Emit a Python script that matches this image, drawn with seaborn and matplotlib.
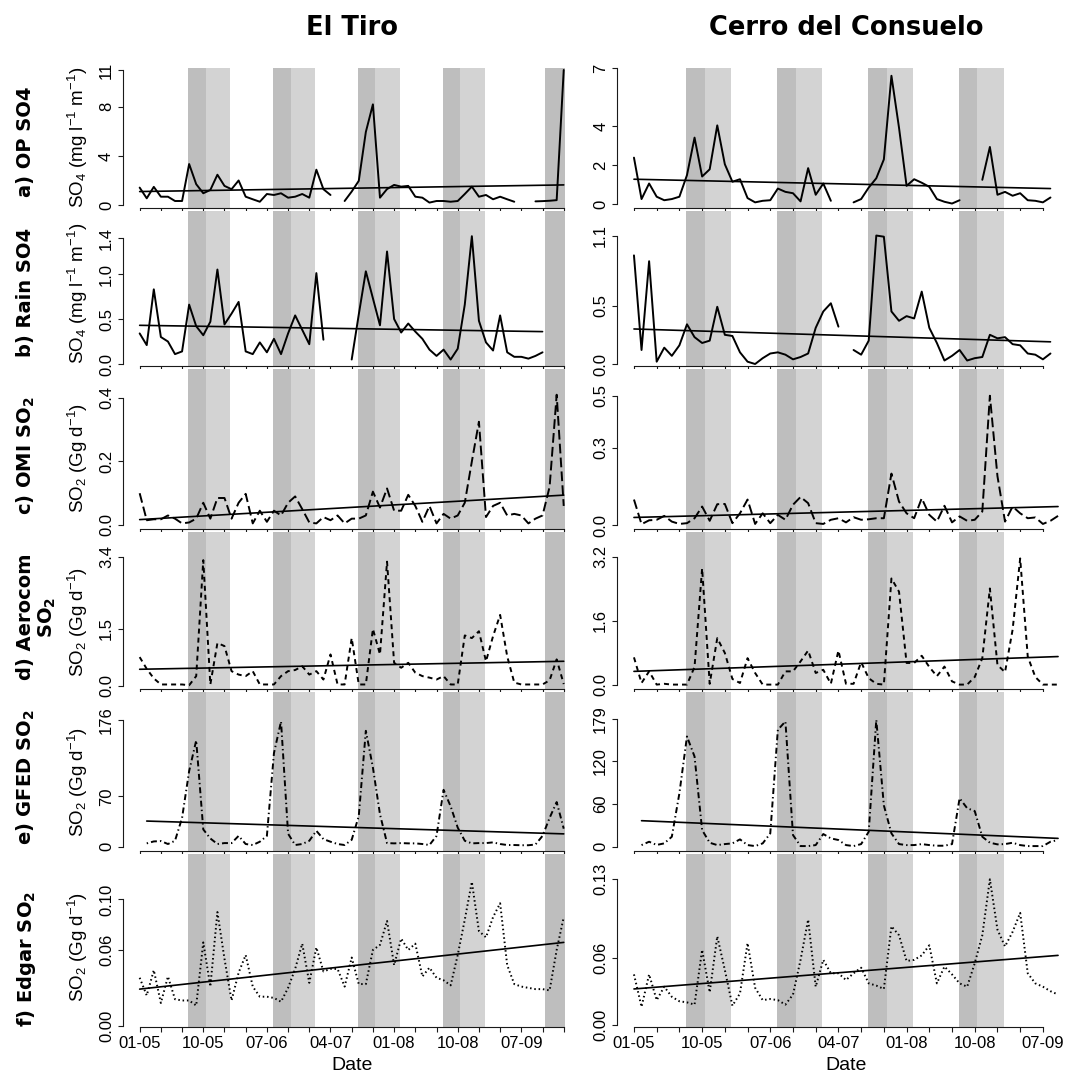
import numpy as np
import pandas as pd
import matplotlib
matplotlib.use("Agg")
import matplotlib.pyplot as plt
import seaborn as sns

nan = np.nan

# monthly values, first value = 01-05; El Tiro runs to 01-10, Cerro del Consuelo to 09-09
op_tiro = [1.42, 0.55, 1.48, 0.68, 0.68, 0.33, 0.33, 3.34, 1.7, 0.96,
           1.23, 2.47, 1.56, 1.29, 2.0, 0.68, 0.47, 0.27, 0.9, 0.82,
           0.96, 0.6, 0.68, 0.9, 0.6, 2.88, 1.29, 0.82, nan, 0.33,
           1.1, 1.97, 5.95, 8.2, 0.6, 1.3, 1.64, 1.5, 1.56, 0.68,
           0.6, 0.2, 0.33, 0.33, 0.27, 0.33, 0.9, 1.5, 0.68, 0.82,
           0.47, 0.68, 0.47, 0.27, nan, nan, 0.3, 0.32, 0.35, 0.4,
           11.0]
rain_tiro = [0.34, 0.21, 0.83, 0.30, 0.25, 0.11, 0.14, 0.66, 0.42, 0.32,
             0.47, 1.05, 0.44, 0.56, 0.69, 0.14, 0.11, 0.24, 0.13, 0.28,
             0.11, 0.34, 0.54, 0.38, 0.22, 1.01, 0.27, nan, nan, nan,
             0.05, 0.55, 1.03, 0.73, 0.43, 1.25, 0.50, 0.35, 0.45, 0.36,
             0.28, 0.16, 0.09, 0.16, 0.05, 0.17, 0.66, 1.42, 0.48, 0.24,
             0.15, 0.54, 0.13, 0.08, 0.08, 0.06, 0.09, 0.13, nan, nan,
             nan]
omi_tiro = [0.10, 0.015, 0.018, 0.018, 0.03, 0.02, 0.005, 0.008, 0.02, 0.07,
            0.02, 0.085, 0.085, 0.02, 0.07, 0.098, 0.005, 0.045, 0.01, 0.045,
            0.03, 0.07, 0.09, 0.05, 0.008, 0.005, 0.025, 0.015, 0.03, 0.005,
            0.02, 0.02, 0.03, 0.105, 0.055, 0.115, 0.045, 0.045, 0.095, 0.06,
            0.01, 0.06, 0.005, 0.035, 0.02, 0.03, 0.07, 0.2, 0.325, 0.025,
            0.06, 0.07, 0.03, 0.035, 0.03, 0.005, 0.02, 0.03, 0.12, 0.41,
            0.06]
aero_tiro = [0.76, 0.45, 0.2, 0.04, 0.04, 0.04, 0.04, 0.02, 0.26, 3.31,
             0.04, 1.13, 1.05, 0.39, 0.3, 0.26, 0.39, 0.04, 0.04, 0.04,
             0.26, 0.39, 0.42, 0.52, 0.3, 0.39, 0.17, 0.83, 0.04, 0.04,
             1.26, 0.04, 0.04, 1.5, 0.83, 3.27, 0.61, 0.48, 0.61, 0.35,
             0.26, 0.22, 0.17, 0.26, 0.04, 0.04, 1.33, 1.26, 1.44, 0.65,
             1.31, 1.87, 0.78, 0.09, 0.04, 0.04, 0.04, 0.04, 0.15, 0.7,
             0.05]
gfed_tiro = [nan, 4.6, 7.3, 7.8, 3.7, 8.2, 40, 105, 147.6, 24,
             11.4, 3.7, 5, 5, 15, 3.7, 2.3, 6.9, 15, 130,
             174, 18, 2.3, 3.7, 8.2, 22, 10.5, 6.9, 3.7, 2.3,
             9.6, 42.5, 161, 110, 45, 5, 4.6, 5, 4.6, 4.6,
             3.7, 2.3, 15, 79, 56, 26.5, 8.2, 4.6, 5, 5,
             6, 3.7, 2.3, 2.3, 2, 2, 3, 15, 40, 62,
             25]
edgar_tiro = [0.038, 0.024, 0.044, 0.018, 0.039, 0.021, 0.020, 0.020, 0.016, 0.066,
              0.031, 0.09, 0.053, 0.02, 0.042, 0.056, 0.031, 0.023, 0.023, 0.022,
              0.019, 0.03, 0.045, 0.065, 0.034, 0.062, 0.043, 0.045, 0.045, 0.031,
              0.054, 0.033, 0.033, 0.06, 0.064, 0.083, 0.048, 0.069, 0.06, 0.065,
              0.039, 0.046, 0.038, 0.036, 0.032, 0.056, 0.084, 0.114, 0.075, 0.07,
              0.086, 0.097, 0.048, 0.033, 0.031, 0.03, 0.029, 0.029, 0.028, 0.06,
              0.086]

op_cerro = [2.39, 0.26, 1.06, 0.38, 0.2, 0.26, 0.38, 1.49, 3.42, 1.42,
            1.79, 4.05, 2.05, 1.15, 1.28, 0.31, 0.09, 0.17, 0.2, 0.8,
            0.63, 0.56, 0.14, 1.85, 0.48, 1.06, 0.17, nan, nan, 0.09,
            0.26, 0.85, 1.33, 2.3, 6.6, 3.93, 0.94, 1.28, 1.1, 0.89,
            0.26, 0.12, 0.03, 0.2, nan, nan, 1.25, 2.94, 0.48, 0.63,
            0.43, 0.56, 0.2, 0.17, 0.09, 0.34, nan]
rain_cerro = [0.93, 0.12, 0.88, 0.02, 0.14, 0.07, 0.16, 0.34, 0.23, 0.18,
              0.2, 0.49, 0.25, 0.24, 0.1, 0.02, 0.0, 0.05, 0.09, 0.1,
              0.08, 0.04, 0.06, 0.09, 0.31, 0.45, 0.52, 0.32, nan, 0.12,
              0.08, 0.2, 1.1, 1.09, 0.45, 0.37, 0.41, 0.39, 0.62, 0.31,
              0.18, 0.03, 0.07, 0.12, 0.03, 0.05, 0.06, 0.25, 0.22, 0.23,
              0.17, 0.16, 0.09, 0.08, 0.04, 0.09, nan]
omi_cerro = [0.1, 0.005, 0.02, 0.022, 0.037, 0.015, 0.006, 0.009, 0.028, 0.073,
             0.018, 0.082, 0.083, 0.009, 0.047, 0.1, 0.006, 0.047, 0.009, 0.041,
             0.022, 0.08, 0.11, 0.086, 0.009, 0.006, 0.022, 0.028, 0.012, 0.032,
             0.022, 0.024, 0.028, 0.028, 0.2, 0.092, 0.047, 0.028, 0.105, 0.041,
             0.015, 0.076, 0.012, 0.035, 0.018, 0.022, 0.054, 0.5, 0.19, 0.015,
             0.073, 0.047, 0.028, 0.031, 0.006, 0.018, 0.037]
aero_cerro = [0.69, 0.05, 0.34, 0.01, 0.03, 0.01, 0.01, 0.01, 0.45, 2.91,
              0.03, 1.17, 0.8, 0.15, 0.05, 0.67, 0.3, 0.01, 0.01, 0.01,
              0.34, 0.34, 0.59, 0.86, 0.3, 0.38, 0.03, 0.86, 0.03, 0.03,
              0.57, 0.17, 0.03, 0.01, 2.66, 2.33, 0.55, 0.55, 0.73, 0.45,
              0.22, 0.46, 0.09, 0.01, 0.01, 0.2, 0.67, 2.41, 0.5, 0.32,
              1.38, 3.16, 0.71, 0.2, 0.01, 0.01, 0.01]
gfed_cerro = [nan, 2.3, 7.0, 2.5, 4.7, 14, 75, 154.6, 126.5, 23.4,
              5.6, 2.3, 3.7, 4.7, 10.3, 2.3, 0.9, 4.7, 18.7, 164,
              175.7, 16.4, 0.9, 0.9, 2.3, 17.8, 11.7, 9.4, 2.3, 0.9,
              3.7, 21, 178, 58, 18.7, 3.7, 2.3, 2.3, 3.7, 2.3,
              1.4, 1.4, 3.7, 68, 54, 50, 14, 5.6, 3.3, 3.7,
              5.6, 2.3, 0.9, 0.9, 0.9, 7, 9.4]
edgar_cerro = [0.045, 0.016, 0.045, 0.022, 0.034, 0.025, 0.021, 0.02, 0.018, 0.067,
               0.029, 0.079, 0.049, 0.017, 0.028, 0.073, 0.033, 0.022, 0.023, 0.022,
               0.018, 0.027, 0.058, 0.094, 0.034, 0.058, 0.046, 0.046, 0.04, 0.046,
               0.051, 0.037, 0.035, 0.032, 0.088, 0.08, 0.057, 0.058, 0.062, 0.071,
               0.037, 0.052, 0.045, 0.037, 0.034, 0.055, 0.08, 0.13, 0.085, 0.07,
               0.083, 0.1, 0.046, 0.037, 0.034, 0.03, 0.027]

# linear trends (value at first and last valid month)
tiro_trend_start = [1.1, 0.43, 0.017, 0.44, 35.6, 0.029]
tiro_trend_end = [1.64, 0.36, 0.094, 0.65, 17.8, 0.066]
cerro_trend_start = [1.28, 0.30, 0.031, 0.34, 36.5, 0.032]
cerro_trend_end = [0.80, 0.19, 0.073, 0.71, 11.7, 0.062]

# y ticks per panel
tiro_yticks = [[0, 4, 8, 11], [0.0, 0.5, 1.0, 1.4], [0.0, 0.2, 0.4],
               [0.0, 1.5, 3.4], [0, 70, 176], [0.00, 0.06, 0.10]]
cerro_yticks = [[0, 2, 4, 7], [0.0, 0.5, 1.1], [0.0, 0.3, 0.5],
                [0.0, 1.6, 3.2], [0, 60, 120, 179], [0.00, 0.06, 0.13]]
ytick_fmt = ["{:.0f}", "{:.1f}", "{:.1f}", "{:.1f}", "{:.0f}", "{:.2f}"]

# season bands in months since 01-05 (dark = dry, light = transition)
dark_start = [6.9, 18.9, 30.9, 42.9]
dark_end = [9.35, 21.35, 33.35, 45.35]
light_end = [12.85, 24.85, 36.85, 48.85]
tiro_extra_band = [57.4, 60.2]

row_labels = ["a) OP SO4", "b) Rain SO4", "c) OMI SO$_2$",
              "d) Aerocom\nSO$_2$", "e) GFED SO$_2$", "f) Edgar SO$_2$"]
unit_labels = ["SO$_4$ (mg l$^{-1}$ m$^{-1}$)"] * 2 + ["SO$_2$ (Gg d$^{-1}$)"] * 4
styles = ["-", "-", (0, (7, 3)), (0, (3.6, 2.9)), (0, (1, 2.2, 4.3, 2.2)), (0, (1.1, 2.0))]

# ---- layout (pixels) ----
W, H = 1067, 1076
col_left = [122.7, 617.0]
col_w = 458.0
row_top = [68, 211, 369, 532, 692, 854]
row_bot = [208, 366, 529, 689, 851, 1027]
tiro_ylim = [(-0.24, 11.16), (-0.022, 1.7), (-0.0126, 0.491), (-0.079, 4.05), (-6.0, 214.9), (-0.001, 0.136)]
cerro_ylim = [(-0.2, 7.0), (-0.017, 1.31), (-0.0135, 0.603), (-0.1, 3.82), (-6.0, 217.0), (-0.002, 0.1526)]
label_y = [142, 292, 456, 617, 777, 959]
unit_y = [137, 293, 458, 622, 782, 947]

sns.set_style("ticks")
plt.rcParams["font.family"] = ["Liberation Sans", "DejaVu Sans"]
plt.rcParams["mathtext.default"] = "regular"
plt.rcParams["lines.scale_dashes"] = False
for key in ("text.color", "axes.labelcolor", "xtick.color", "ytick.color"):
    plt.rcParams[key] = "black"

fig = plt.figure(figsize=(W / 100, H / 100), dpi=100)
axis_col = "#1a1a1a"


def month_label(m):
    return f"{(m % 12) + 1:02d}-{5 + m // 12:02d}"


def draw_panel(ax, values, t0, t1, ls, yticks, fmt, ylim, bottom_row, extra_band):
    v = np.array(values, dtype=float)
    n_last = len(v) - 1
    for a, b, c in zip(dark_start, dark_end, light_end):
        ax.axvspan(a, b, color="#bebebe", lw=0, zorder=0)
        ax.axvspan(b, c, color="#d3d3d3", lw=0, zorder=0)
    if extra_band is not None:
        ax.axvspan(extra_band[0], extra_band[1], color="#bebebe", lw=0, zorder=0)

    df = pd.DataFrame({"month": np.arange(len(v)), "value": v,
                       "seg": np.cumsum(np.isnan(v))}).dropna()
    sns.lineplot(data=df, x="month", y="value", units="seg", estimator=None,
                 color="black", lw=1.4, linestyle=ls, ax=ax, zorder=3)
    first, last = df["month"].min(), df["month"].max()
    sns.lineplot(x=[first, last], y=[t0, t1], color="black", lw=1.2, ax=ax, zorder=4)

    ax.set_xlim(-0.04 * n_last, n_last * 1.04)
    ax.set_ylim(*ylim)
    ax.set_xlabel("")
    ax.set_ylabel("")

    xt = list(range(0, n_last + 1, 3))
    ax.set_xticks(xt)
    if bottom_row:
        ax.set_xticklabels([month_label(m) if m % 9 == 0 else "" for m in xt])
    else:
        ax.set_xticklabels([])
    ax.set_yticks(yticks)
    ax.set_yticklabels([fmt.format(t) for t in yticks])
    ax.tick_params(axis="both", direction="out", length=3.3, width=0.8,
                   color=axis_col, labelcolor="black", labelsize=12, pad=3)
    ax.tick_params(axis="y", labelrotation=90)
    for lab in ax.get_yticklabels():
        lab.set_va("center")

    sns.despine(ax=ax)
    ax.spines["left"].set_bounds(yticks[0], yticks[-1])
    ax.spines["bottom"].set_bounds(xt[0], xt[-1])
    for s in ("left", "bottom"):
        ax.spines[s].set_color(axis_col)
        ax.spines[s].set_linewidth(0.8)
    ax.set_facecolor("white")


columns = [
    ([op_tiro, rain_tiro, omi_tiro, aero_tiro, gfed_tiro, edgar_tiro],
     tiro_trend_start, tiro_trend_end, tiro_yticks, tiro_ylim, tiro_extra_band),
    ([op_cerro, rain_cerro, omi_cerro, aero_cerro, gfed_cerro, edgar_cerro],
     cerro_trend_start, cerro_trend_end, cerro_yticks, cerro_ylim, None),
]

for c, (series, ts, te, yts, ylims, extra) in enumerate(columns):
    for r in range(6):
        ax = fig.add_axes([col_left[c] / W, 1 - row_bot[r] / H,
                           col_w / W, (row_bot[r] - row_top[r]) / H])
        draw_panel(ax, series[r], ts[r], te[r], styles[r], yts[r],
                   ytick_fmt[r], ylims[r], r == 5, extra)

# column titles and x labels
for c, title in enumerate(["El Tiro", "Cerro del Consuelo"]):
    xc = (col_left[c] + col_w / 2) / W
    fig.text(xc, 1 - 28 / H, title, ha="center", va="center", color="black",
             fontsize=18.5, fontweight="bold", family="DejaVu Sans")
    fig.text(xc, 1 - 1065 / H, "Date", ha="center", va="center",
             fontsize=14, color="black")

# row labels and unit labels (left side only)
for r in range(6):
    xl = 37 if "\n" in row_labels[r] else 26
    fig.text(xl / W, 1 - label_y[r] / H, row_labels[r], rotation=90,
             ha="center", va="center", multialignment="center", color="black",
             fontsize=14, fontweight="bold", family="DejaVu Sans", linespacing=1.1)
    fig.text(78 / W, 1 - unit_y[r] / H, unit_labels[r], rotation=90,
             ha="center", va="center", fontsize=13.5, color="black")

fig.savefig("out.png", dpi=100)
